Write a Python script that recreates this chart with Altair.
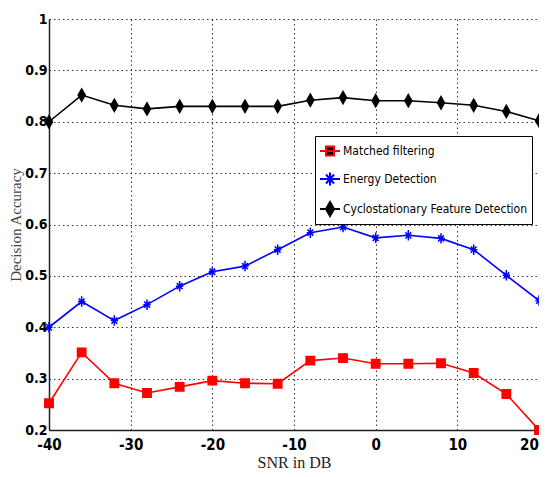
import altair as alt
import pandas as pd

snr = [-40, -36, -32, -28, -24, -20, -16, -12, -8, -4, 0, 4, 8, 12, 16, 20]
matched = [0.252, 0.351, 0.291, 0.272, 0.284, 0.296, 0.291, 0.290, 0.335, 0.340, 0.329, 0.329, 0.330, 0.311, 0.270, 0.200]
energy = [0.400, 0.450, 0.413, 0.444, 0.480, 0.508, 0.519, 0.551, 0.584, 0.595, 0.574, 0.579, 0.573, 0.551, 0.501, 0.452]
cyclo = [0.800, 0.852, 0.832, 0.825, 0.830, 0.830, 0.830, 0.830, 0.842, 0.847, 0.841, 0.841, 0.837, 0.832, 0.820, 0.802]

names = ["Matched filtering", "Energy Detection", "Cyclostationary Feature Detection"]
colors = ["#ff0000", "#0000ff", "#000000"]
line_widths = [1.6, 1.6, 2.0]
x_ticks = [-40, -30, -20, -10, 0, 10, 20]
y_ticks = [0.2, 0.3, 0.4, 0.5, 0.6, 0.7, 0.8, 0.9, 1.0]

rows = []
for name, vals in zip(names, [matched, energy, cyclo]):
    for s, v in zip(snr, vals):
        rows.append({"snr": s, "acc": v, "series": name})
df = pd.DataFrame(rows)

marker_paths = [
    "M-1,-1H1V1H-1Z",
    "M0,-1V1M-0.7,0H0.7M-0.55,-0.6L0.55,0.6M-0.55,0.6L0.55,-0.6",
    "M0,-1L0.57,0L0,1L-0.57,0Z",
]
marker_sizes = [70, 150, 196]
legend_paths = [
    "M-1,0H1M-0.4,-0.45H0.4V0.45H-0.4Z",
    "M-1,0H1M0,-0.65V0.65M-0.4,-0.45L0.4,0.45M-0.4,0.45L0.4,-0.45",
    "M-1,0H1M0,-0.7L0.4,0L0,0.7L-0.4,0Z",
]

color_scale = alt.Scale(domain=names, range=colors)
label_font = "DejaVu Sans Condensed, sans-serif"

x_enc = alt.X(
    "snr:Q",
    scale=alt.Scale(domain=[-40, 20], nice=False),
    axis=alt.Axis(values=x_ticks, title="SNR in DB", labelPadding=7, labelFlush=False,
                  labelExpr="'' + datum.value", labelFontSize=15,
                  labelOffset={"condition": {"test": "datum.value == 20", "value": -10}, "value": 0},
                  titleFont="Liberation Serif", titleFontSize=16, titleFontWeight="normal",
                  titleColor="#222", titlePadding=2),
)
y_enc = alt.Y(
    "acc:Q",
    scale=alt.Scale(domain=[0.2, 1.0], nice=False),
    axis=alt.Axis(values=y_ticks, title="Decision Accuracy", labelPadding=2, labelFontSize=14,
                  labelExpr="datum.value == 1 ? '1' : format(datum.value, '.1f')",
                  titleFont="Liberation Serif", titleFontSize=15, titleFontWeight="normal",
                  titleColor="#444", titleX=-26),
)

lines = alt.Chart(df).mark_line().encode(
    x=x_enc, y=y_enc,
    color=alt.Color("series:N", scale=color_scale, legend=None),
    strokeWidth=alt.StrokeWidth("series:N", scale=alt.Scale(domain=names, range=line_widths), legend=None),
)

points = alt.Chart(df).mark_point(filled=True, strokeWidth=1.5, opacity=1).encode(
    x=x_enc, y=y_enc,
    color=alt.Color("series:N", scale=color_scale, legend=None),
    stroke=alt.Stroke("series:N", scale=color_scale, legend=None),
    shape=alt.Shape("series:N", scale=alt.Scale(domain=names, range=marker_paths), legend=None),
    size=alt.Size("series:N", scale=alt.Scale(domain=names, range=marker_sizes), legend=None),
)

leg = alt.Legend(
    title=None, orient="none", legendX=266, legendY=117,
    symbolSize=400, symbolStrokeWidth=2, symbolOpacity=1,
    labelFont=label_font,
    labelFontSize=12, labelColor="black", labelLimit=400, labelOffset=2,
    padding=4, rowPadding=8, strokeColor="black", fillColor="white",
    cornerRadius=0,
)

legend_layer = alt.Chart(df).mark_point(filled=True, opacity=0).encode(
    x=x_enc, y=y_enc,
    fill=alt.Fill("series:N", scale=color_scale, legend=leg, sort=names),
    stroke=alt.Stroke("series:N", scale=color_scale, legend=leg, sort=names),
    shape=alt.Shape("series:N", scale=alt.Scale(domain=names, range=legend_paths), legend=leg, sort=names),
)

chart = alt.layer(lines, points, legend_layer).resolve_scale(
    shape="independent", stroke="independent"
).properties(
    width=490, height=411,
    autosize=alt.AutoSizeParams(type="none"),
    padding={"left": 41, "top": 11, "right": 0, "bottom": 39},
).configure_view(strokeWidth=0).configure_axis(
    labelFont=label_font,
    labelFontWeight="bold", labelColor="black",
    domainColor="#222", domainWidth=1.5,
    ticks=False,
    grid=True, gridColor="#111", gridDash=[1.5, 3], gridWidth=1, gridOpacity=0.85,
).configure_axisY(labelBaseline="middle")

chart.save("out.html", embed_options={"renderer": "svg", "actions": False})
